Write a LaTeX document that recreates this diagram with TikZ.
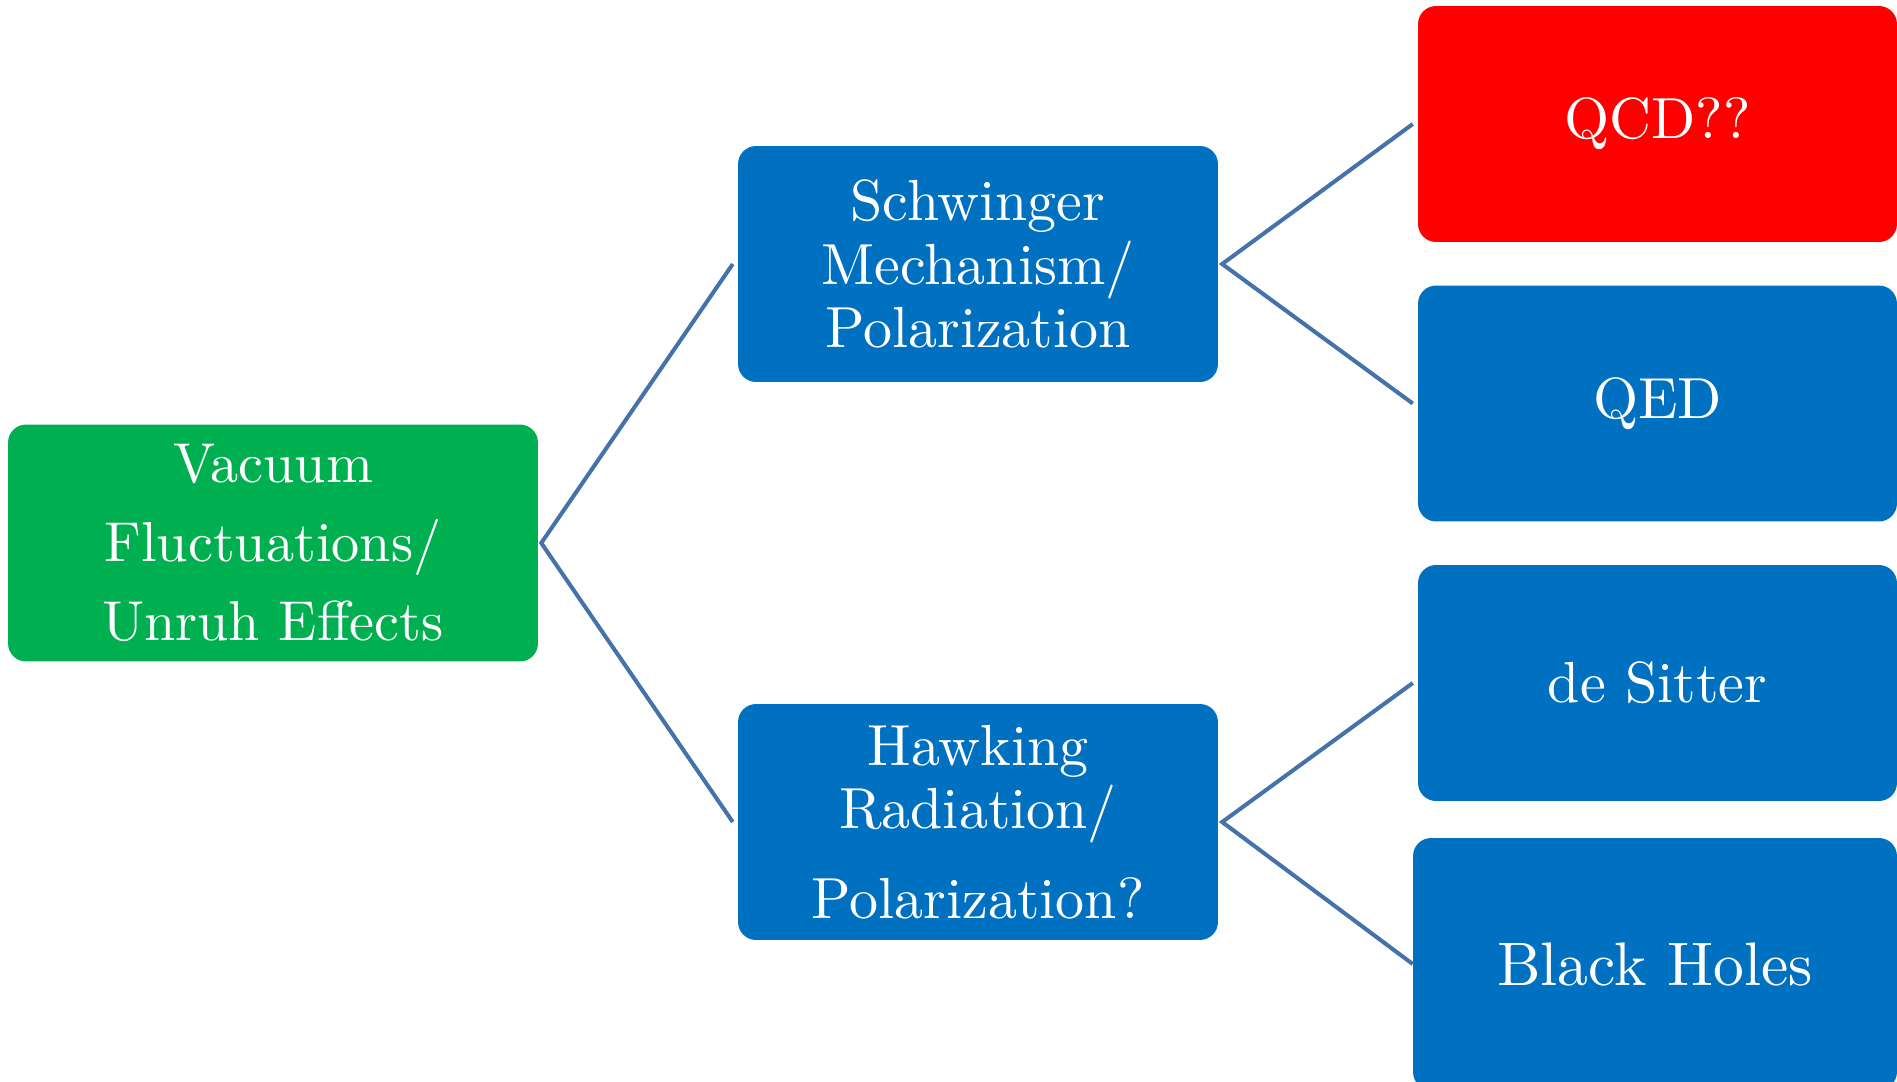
\documentclass[tikz,border=0pt]{standalone}
\usepackage{fontspec}
\setmainfont{lmroman10-regular.otf}
\usetikzlibrary{positioning}
\definecolor{vacgreen}{RGB}{0,176,80}
\definecolor{topblue}{RGB}{0,112,192}
\definecolor{linkblue}{RGB}{70,114,170}
\begin{document}
\begin{tikzpicture}[x=0.02cm, y=-0.02cm,
	topicbox/.style={rectangle, rounded corners=0.36cm, fill=topblue, text=white, align=center, inner sep=0pt, minimum width=9.6cm, minimum height=4.72cm, font=\fontsize{33}{36}\selectfont},
	link/.style={line width=2.3pt, color=linkblue, line join=miter}]

		\useasboundingbox (0,0) rectangle (1897,1082);

		\node[topicbox, fill=vacgreen, minimum width=10.6cm, minimum height=4.74cm, font=\fontsize{32}{36}\selectfont](vacuum) at (273,543){Vacuum\\[9pt]Fluctuations/\\[9pt]Unruh Effects};

		\node[topicbox](schwinger) at (978,264){Schwinger\\Mechanism/\\Polarization};
		\node[topicbox](hawking) at (978,822){Hawking\\Radiation/\\[15pt]Polarization?};

		\node[topicbox, fill=red, minimum width=9.58cm](qcd) at (1657.5,124){QCD??};
		\node[topicbox, minimum width=9.58cm](qed) at (1657.5,403.5){QED};
		\node[topicbox, minimum width=9.58cm](desitter) at (1657.5,683){de Sitter};
		\node[topicbox, minimum width=9.68cm, minimum height=5.04cm, font=\fontsize{35}{40}\selectfont](blackholes) at (1655,964){Black Holes};

		\draw[link] ([xshift=-2.8pt]schwinger.west) -- ([xshift=1.7pt]vacuum.east) -- ([xshift=-2.8pt]hawking.west);
		\draw[link] ([xshift=-2.8pt]qcd.west) -- ([xshift=2.2pt]schwinger.east) -- ([xshift=-2.8pt]qed.west);
		\draw[link] ([xshift=-2.8pt]desitter.west) -- ([xshift=2.2pt]hawking.east) -- (blackholes.west);

	\end{tikzpicture}
\end{document}
